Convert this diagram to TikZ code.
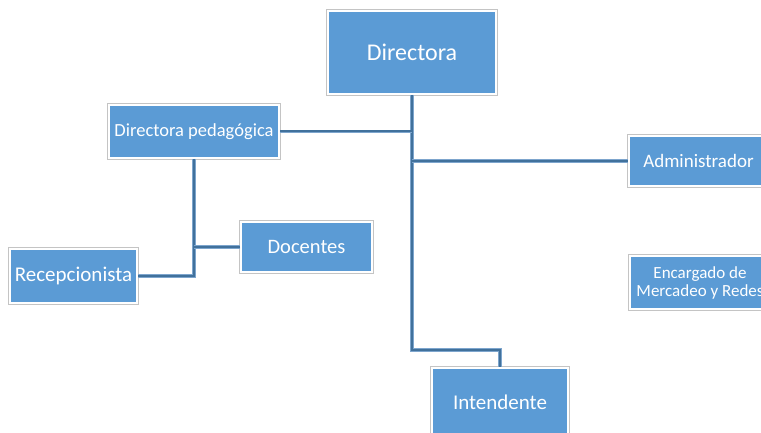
\documentclass[tikz,border=0pt]{standalone}
\usepackage{fontspec}
\setmainfont{Carlito}
\definecolor{boxblue}{RGB}{91,155,213}
\definecolor{boxrim}{RGB}{196,196,196}
\definecolor{linedark}{RGB}{65,113,156}
\definecolor{linelight}{RGB}{125,165,205}
\tikzset{
  puesto/.style={rectangle, fill=boxblue, draw=white, line width=2pt,
    preaction={draw=boxrim, line width=4pt}, inner sep=0pt,
    text=white, align=center},
  enlace/.style={preaction={draw=linelight, line width=3.6pt},
    draw=linedark, line width=2pt}
}
\begin{document}
\begin{tikzpicture}[x=1pt,y=-1pt]
	\useasboundingbox (0,0) rectangle (761,433);
	% Cargos
	\node[puesto, minimum width=168pt, minimum height=83pt,
	  font=\fontsize{24}{28}\selectfont] (dir) at (412,52.5) {Directora};
	\node[puesto, minimum width=170pt, minimum height=53pt,
	  font=\fontsize{18.5}{20}\selectfont] (ped) at (194,131.5) {Directora pedagógica};
	\node[puesto, minimum width=139pt, minimum height=50pt,
	  font=\fontsize{19}{22}\selectfont] (adm) at (698.5,161) {Administrador};
	\node[puesto, minimum width=140pt, minimum height=53pt,
	  font=\fontsize{17}{18}\selectfont] (mer) at (700,282.5) {Encargado de\\Mercadeo y Redes};
	\node[puesto, minimum width=131pt, minimum height=50pt,
	  font=\fontsize{20.5}{24}\selectfont] (doc) at (306.5,247) {Docentes};
	\node[puesto, minimum width=127pt, minimum height=54pt,
	  font=\fontsize{21}{24}\selectfont] (rec) at (73.5,276) {Recepcionista};
	\node[puesto, minimum width=136pt, minimum height=68pt,
	  font=\fontsize{21}{24}\selectfont] (int) at (500,402) {Intendente};
	% Conexiones
	\coordinate (codo) at (412,350);
	\draw[enlace] (dir.south) -- (codo) -| (int.north);
	\draw[enlace] (ped.east) -- (ped.east -| dir.south);
	\draw[enlace] (adm.west -| dir.south) -- (adm.west);
	\draw[enlace] (ped.south) |- (rec.east);
	\draw[enlace] (doc.west) -- (doc.west -| ped.south);
\end{tikzpicture}
\end{document}
